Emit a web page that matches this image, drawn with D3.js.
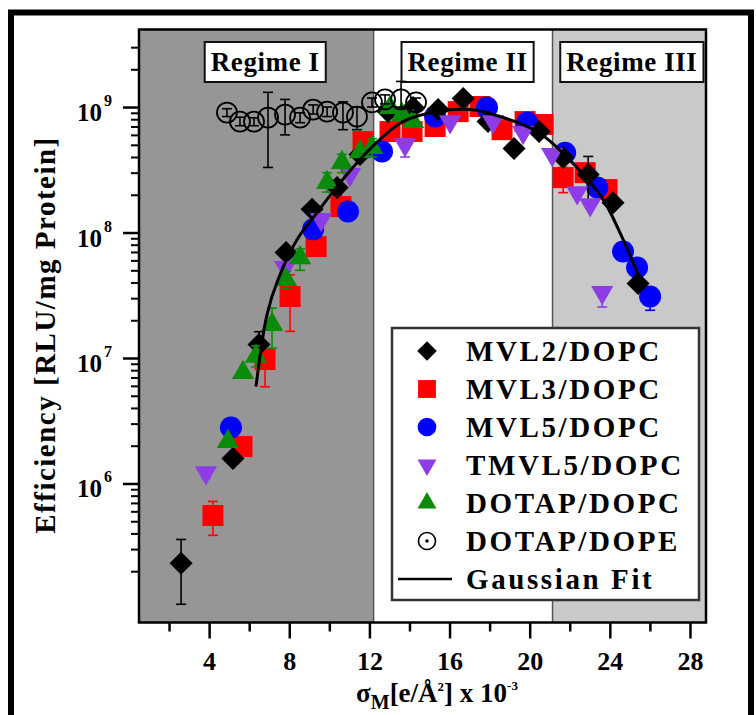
<!DOCTYPE html>
<html>
<head>
<meta charset="utf-8">
<script src="https://cdn.jsdelivr.net/npm/d3@7"></script>
<style>
  body { margin: 0; background: #fff; }
  svg text { font-family: "Liberation Serif", "Times New Roman", serif; fill: #000; }
</style>
</head>
<body>
<div id="chart"></div>
<script>
// values (x in e/A^2 x 10^-3, y in RLU/mg protein)
const mvl2X = [2.60, 5.19, 6.49, 7.84, 9.14, 10.39, 11.53, 12.93, 14.18, 15.43, 16.68, 17.92, 19.22, 20.47, 21.67, 22.92, 24.16, 25.41];
const mvl2Y = [2.31e5, 1.58e6, 1.28e7, 6.93e7, 1.53e8, 2.28e8, 4.19e8, 9.2e8, 9.9e8, 9.55e8, 1.17e9, 7.66e8, 4.67e8, 6.38e8, 3.96e8, 2.9e8, 1.73e8, 3.93e7];
const mvl2Err = [[1.09e5, 3.58e5], null, [9.8e6, 1.62e7], null, null, [2.0e8, 2.6e8], null, null, null, null, null, null, null, null, null, [1.73e8, 4.04e8], null, null];

const mvl3X = [4.19, 5.64, 6.79, 8.04, 9.34, 10.58, 11.68, 13.03, 14.13, 15.28, 16.43, 17.52, 18.62, 19.77, 20.67, 21.67, 22.77, 23.86];
const mvl3Y = [5.56e5, 1.97e6, 9.73e6, 3.09e7, 7.73e7, 1.61e8, 5.31e8, 6.38e8, 6.38e8, 7.0e8, 9.2e8, 1.01e9, 6.6e8, 7.66e8, 7.26e8, 2.74e8, 3.0e8, 2.2e8];
const mvl3Err = [[3.86e5, 7.2e5], null, [5.9e6, 1.17e7], [1.63e7, 4.6e7], null, null, null, null, null, null, null, null, null, null, null, [2.08e8, 3.3e8], null, null];

const mvl5X = [5.09, 9.19, 10.93, 12.63, 15.28, 17.87, 19.87, 21.77, 23.37, 24.66, 25.36, 26.01];
const mvl5Y = [2.79e6, 1.06e8, 1.47e8, 4.42e8, 8.4e8, 9.9e8, 7.52e8, 4.33e8, 2.29e8, 7.06e7, 5.26e7, 3.09e7];
const mvl5Err = [[2.55e6, 3.1e6], null, null, null, null, null, null, null, null, null, null, [2.4e7, 3.4e7]];

const tmvl5X = [3.84, 7.79, 9.59, 11.03, 13.78, 16.03, 18.17, 19.67, 21.12, 22.37, 23.02, 23.62];
const tmvl5Y = [1.22e6, 5.26e7, 1.27e8, 2.9e8, 5.02e8, 7.66e8, 7.66e8, 6.27e8, 4.19e8, 2.08e8, 1.67e8, 3.33e7];
const tmvl5Err = [[1.1e6, 1.3e6], null, null, null, [4.0e8, 5.6e8], null, null, null, null, null, null, [2.55e7, 3.5e7]];

const dotapPcX = [4.94, 5.69, 6.34, 7.14, 7.84, 8.54, 9.89, 10.63, 11.53, 12.13, 13.03, 13.63, 14.18];
const dotapPcY = [2.16e6, 7.66e6, 1.03e7, 1.85e7, 4.22e7, 6.3e7, 2.5e8, 3.61e8, 4.4e8, 4.75e8, 9.9e8, 8.7e8, 7.66e8];
const dotapPcErr = [null, null, [8.5e6, 1.25e7], [1.2e7, 2.5e7], [3.6e7, 4.9e7], [5.0e7, 7.4e7], [2.1e8, 3.0e8], [3.0e8, 4.2e8], null, [4.0e8, 5.6e8], null, null, null];

const dotapPeX = [4.89, 5.54, 6.24, 6.94, 7.79, 8.54, 9.19, 9.89, 10.68, 11.38, 12.13, 12.78, 13.58, 14.33];
const dotapPeY = [9.04e8, 7.66e8, 7.66e8, 8.25e8, 8.71e8, 8.25e8, 9.55e8, 9.2e8, 9.04e8, 8.4e8, 1.09e9, 1.15e9, 1.15e9, 1.09e9];
const dotapPeErr = [[8.4e8, 9.7e8], [7.1e8, 8.3e8], [7.1e8, 8.2e8], [3.3e8, 1.31e9], [6.0e8, 1.15e9], [7.5e8, 9.0e8], [8.8e8, 1.04e9], [8.4e8, 1.0e9], [6.6e8, 1.1e9], [6.6e8, 1.0e9], [1.0e9, 1.18e9], [1.06e9, 1.25e9], [1.0e9, 1.6e9], [1.0e9, 1.18e9]];

const fitX = [6.34, 6.89, 7.44, 8.39, 9.39, 10.39, 11.53, 12.68, 13.68, 15.38, 17.03, 18.67, 20.37, 21.37, 22.67, 23.67, 24.66, 25.51];
const fitY = [5.93e6, 2.22e7, 4.22e7, 8.8e7, 1.44e8, 2.33e8, 3.82e8, 5.82e8, 7.66e8, 9.2e8, 9.55e8, 8.25e8, 6.38e8, 4.75e8, 2.9e8, 1.83e8, 8.8e7, 4.22e7];

const regimeEdges = [12.21, 21.14];
const regimeNames = ["Regime I", "Regime II", "Regime III"];
const xTicks = [4, 8, 12, 16, 20, 24, 28];
const xMinorTicks = [2, 6, 10, 14, 18, 22, 26];
const yDecades = [1e6, 1e7, 1e8, 1e9];

const width = 756, height = 715;
const svg = d3.select("#chart").append("svg")
  .attr("width", width)
  .attr("height", height);

const x = d3.scaleLinear().domain([0.5, 28.8]).range([139, 706]);
const y = d3.scaleLog().domain([7.8e4, 4.15e9]).range([622.5, 29.5]);
const [x0, x1] = x.range();
const [yb, yt] = y.range();

// outer frame
svg.append("rect")
  .attr("x", 11).attr("y", 12.5)
  .attr("width", 740).attr("height", 730)
  .attr("fill", "none").attr("stroke", "#000").attr("stroke-width", 6);

// regime shading
const regimeSpans = [[0.5, regimeEdges[0]], [regimeEdges[0], regimeEdges[1]], [regimeEdges[1], 28.8]];
const regimeFill = ["#969696", "#ffffff", "#c9c9c9"];
svg.selectAll(".regime")
  .data(regimeSpans)
  .enter()
  .append("rect")
  .attr("class", "regime")
  .attr("x", d => x(d[0]))
  .attr("y", yt)
  .attr("width", d => x(d[1]) - x(d[0]))
  .attr("height", yb - yt)
  .attr("fill", (d, i) => regimeFill[i]);

svg.selectAll(".edge")
  .data(regimeEdges)
  .enter()
  .append("line")
  .attr("x1", d => x(d)).attr("x2", d => x(d))
  .attr("y1", yt).attr("y2", yb)
  .attr("stroke", "#555").attr("stroke-width", 1.5);

// regime label boxes
const labelAt = [6.8, 16.9, 25.1];
regimeNames.forEach((name, i) => {
  const g = svg.append("g");
  const t = g.append("text")
    .attr("x", x(labelAt[i]))
    .attr("y", 71)
    .attr("text-anchor", "middle")
    .attr("font-weight", "bold")
    .attr("font-size", 27)
    .attr("letter-spacing", 0.6)
    .text(name);
  const bb = t.node().getBBox();
  g.insert("rect", "text")
    .attr("x", bb.x - 6).attr("y", 42)
    .attr("width", bb.width + 12).attr("height", 40)
    .attr("fill", "#fff").attr("stroke", "#111").attr("stroke-width", 2);
});

// markers
function markerPath(shape, s) {
  if (shape === "diamond") return d3.symbol(d3.symbolSquare, 265 * s * s)();
  if (shape === "square") return d3.symbol(d3.symbolSquare, 441 * s * s)();
  if (shape === "circle") return d3.symbol(d3.symbolCircle, 380 * s * s)();
  return d3.symbol(d3.symbolTriangle, 215 * s * s)();
}
function markerRotate(shape) {
  if (shape === "diamond") return " rotate(45)";
  if (shape === "down") return " rotate(180)";
  return "";
}

const series = [
  { name: "MVL3/DOPC", xs: mvl3X, ys: mvl3Y, err: mvl3Err, color: "#ff0000", shape: "square" },
  { name: "MVL5/DOPC", xs: mvl5X, ys: mvl5Y, err: mvl5Err, color: "#0000ff", shape: "circle" },
  { name: "MVL2/DOPC", xs: mvl2X, ys: mvl2Y, err: mvl2Err, color: "#000000", shape: "diamond" },
  { name: "TMVL5/DOPC", xs: tmvl5X, ys: tmvl5Y, err: tmvl5Err, color: "#8e3de6", shape: "down" },
  { name: "DOTAP/DOPC", xs: dotapPcX, ys: dotapPcY, err: dotapPcErr, color: "#0a8c0a", shape: "up" },
  { name: "DOTAP/DOPE", xs: dotapPeX, ys: dotapPeY, err: dotapPeErr, color: "#000000", shape: "open" }
];

series.forEach(s => {
  const pts = s.xs.map((v, i) => ({ x: v, y: s.ys[i], e: s.err[i] }));
  const g = svg.append("g");
  const bars = g.selectAll(".err")
    .data(pts.filter(p => p.e))
    .enter()
    .append("g")
    .attr("stroke", s.color)
    .attr("stroke-width", 1.6);
  bars.append("line")
    .attr("x1", d => x(d.x)).attr("x2", d => x(d.x))
    .attr("y1", d => y(d.e[0])).attr("y2", d => y(d.e[1]));
  bars.append("line")
    .attr("x1", d => x(d.x) - 5).attr("x2", d => x(d.x) + 5)
    .attr("y1", d => y(d.e[0])).attr("y2", d => y(d.e[0]));
  bars.append("line")
    .attr("x1", d => x(d.x) - 5).attr("x2", d => x(d.x) + 5)
    .attr("y1", d => y(d.e[1])).attr("y2", d => y(d.e[1]));

  if (s.shape === "open") {
    g.selectAll(".pt")
      .data(pts)
      .enter()
      .append("circle")
      .attr("cx", d => x(d.x)).attr("cy", d => y(d.y))
      .attr("r", 10)
      .attr("fill", "none").attr("stroke", "#000").attr("stroke-width", 1.8);
  } else {
    g.selectAll(".pt")
      .data(pts)
      .enter()
      .append("path")
      .attr("d", markerPath(s.shape, 1))
      .attr("transform", d => `translate(${x(d.x)},${y(d.y)})` + markerRotate(s.shape))
      .attr("fill", s.color);
  }
});

// gaussian fit
const fitPts = fitX.map((v, i) => [v, fitY[i]]);
svg.append("path")
  .datum(fitPts)
  .attr("d", d3.line().x(d => x(d[0])).y(d => y(d[1])).curve(d3.curveCatmullRom.alpha(0.5)))
  .attr("fill", "none")
  .attr("stroke", "#000")
  .attr("stroke-width", 3);

// plot border
svg.append("rect")
  .attr("x", x0).attr("y", yt)
  .attr("width", x1 - x0).attr("height", yb - yt)
  .attr("fill", "none").attr("stroke", "#000").attr("stroke-width", 2.5);

// x axis
svg.append("g")
  .attr("transform", `translate(0,${yb})`)
  .call(d3.axisBottom(x).tickValues(xMinorTicks).tickSize(9).tickFormat(""))
  .call(g => g.select(".domain").remove())
  .call(g => g.selectAll("line").attr("stroke-width", 2.5));
svg.append("g")
  .attr("transform", `translate(0,${yb})`)
  .call(d3.axisBottom(x).tickValues(xTicks).tickSize(16).tickPadding(13))
  .call(g => g.select(".domain").remove())
  .call(g => g.selectAll("line").attr("stroke-width", 2.5))
  .call(g => g.selectAll("text")
    .attr("font-family", "Liberation Serif")
    .attr("font-weight", "bold")
    .attr("font-size", 26)
    .attr("fill", "#000"));

// y axis
const yMinor = d3.range(5, 10)
  .flatMap(e => d3.range(2, 10).map(m => m * Math.pow(10, e)))
  .filter(v => v >= 2e5 && v <= 3.1e9);
svg.append("g")
  .attr("transform", `translate(${x0},0)`)
  .call(d3.axisLeft(y).tickValues(yMinor).tickSize(8).tickFormat(""))
  .call(g => g.select(".domain").remove())
  .call(g => g.selectAll("line").attr("stroke-width", 2));
svg.append("g")
  .attr("transform", `translate(${x0},0)`)
  .call(d3.axisLeft(y).tickValues(yDecades).tickSize(16).tickFormat(""))
  .call(g => g.select(".domain").remove())
  .call(g => g.selectAll("line").attr("stroke-width", 2.5));

const yLab = svg.selectAll(".ylab")
  .data(yDecades)
  .enter()
  .append("text")
  .attr("x", 77)
  .attr("y", d => y(d) + 14)
  .attr("font-weight", "bold")
  .attr("font-size", 25);
yLab.append("tspan").text("10");
yLab.append("tspan")
  .attr("font-size", 16)
  .attr("dy", -15)
  .attr("dx", 2)
  .text(d => Math.round(Math.log10(d)));

// axis titles
const xt = svg.append("text")
  .attr("x", 437)
  .attr("y", 702)
  .attr("text-anchor", "middle")
  .attr("font-weight", "bold")
  .attr("font-size", 27);
xt.append("tspan").text("σ");
xt.append("tspan").attr("font-size", 20).attr("dy", 7).text("M");
xt.append("tspan").attr("dy", -7).text("[e/Å");
xt.append("tspan").attr("font-size", 13).attr("dy", -11).text("2");
xt.append("tspan").attr("dy", 11).text("] x 10");
xt.append("tspan").attr("font-size", 13).attr("dy", -12).text("-3");

svg.append("text")
  .attr("transform", "translate(55,335) rotate(-90)")
  .attr("text-anchor", "middle")
  .attr("font-weight", "bold")
  .attr("font-size", 29)
  .attr("letter-spacing", 1.5)
  .text("Efficiency [RLU/mg Protein]");

// legend
const legendNames = ["MVL2/DOPC", "MVL3/DOPC", "MVL5/DOPC", "TMVL5/DOPC", "DOTAP/DOPC", "DOTAP/DOPE", "Gaussian Fit"];
const legendShapes = ["diamond", "square", "circle", "down", "up", "dot", "line"];
const legendColors = ["#000000", "#ff0000", "#0000ff", "#8e3de6", "#0a8c0a", "#000000", "#000000"];

const legend = svg.append("g");
legend.append("rect")
  .attr("x", 392).attr("y", 328)
  .attr("width", 307).attr("height", 272)
  .attr("fill", "#fff").attr("stroke", "#333").attr("stroke-width", 2.5);

const rows = legend.selectAll(".row")
  .data(legendNames)
  .enter()
  .append("g")
  .attr("transform", (d, i) => `translate(0,${351 + i * 38})`);

rows.each(function (d, i) {
  const row = d3.select(this);
  const shape = legendShapes[i];
  if (shape === "line") {
    row.append("line")
      .attr("x1", 398).attr("x2", 452)
      .attr("stroke", "#000").attr("stroke-width", 2.5);
  } else if (shape === "dot") {
    row.append("circle").attr("cx", 427).attr("r", 8.5)
      .attr("fill", "none").attr("stroke", "#000").attr("stroke-width", 1.6);
    row.append("circle").attr("cx", 427).attr("r", 1.8).attr("fill", "#000");
  } else {
    row.append("path")
      .attr("d", markerPath(shape, 0.85))
      .attr("transform", "translate(427,0)" + markerRotate(shape))
      .attr("fill", legendColors[i]);
  }
  row.append("text")
    .attr("x", 466)
    .attr("y", 10)
    .attr("font-weight", "bold")
    .attr("font-size", 29)
    .attr("letter-spacing", 2.6)
    .text(d);
});
</script>
</body>
</html>
